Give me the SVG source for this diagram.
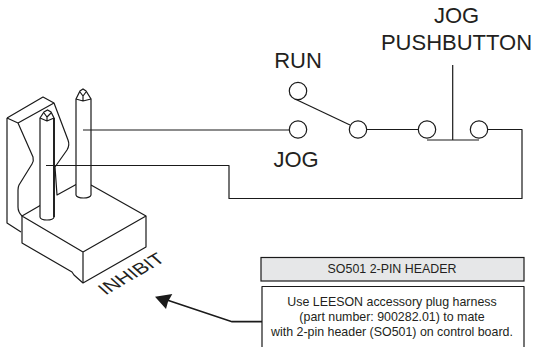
<svg xmlns="http://www.w3.org/2000/svg" width="535" height="347" viewBox="0 0 535 347">
<style>
.l{fill:none;stroke:#1a1a1a;stroke-width:1.2;stroke-linejoin:round}
.w{fill:#fff;stroke:#1a1a1a;stroke-width:1.2}
.t{font-family:"Liberation Sans",Arial,sans-serif;fill:#231f20}
.big{font-size:22px;text-anchor:middle}
.sm{font-size:12.400px;text-anchor:middle}
</style>
<g id="header">
<path class="l" d="M7 118L43 97L54 103L68 140Q70 145 67 150L55 167L57 195L77 184"/>
<path class="l" d="M7 118V223L21 232M7 118L18 123L33 157Q34 161 32 164L19 185Q18 187 18 190V207Q18 212 22 216"/>
<path class="l" d="M18 123L54 103"/>
<path class="l" d="M22 216V243L72 272L74 275L83 283L146 247V216L91 185"/>
<path class="l" d="M22 216L83 252L146 216M83 252V283M22 216L41 205"/>
<path class="w" d="M76 99L80 91L83 89L86 91L91 99V195A7.500 3 0 0 1 76 195Z"/>
<path class="l" d="M76 99L83 101L91 99M80 92L83 96L86 92M83 96V101"/>
<path class="w" d="M40 118L44 112L47.500 110L51 112L54 118V217A7 3 0 0 1 40 217Z"/>
<path class="l" d="M40 118L47 121L54 118M44 113L47 117L51 113M47 117V121"/>
<path d="M54 118V217" fill="none" stroke="#1a1a1a" stroke-width="1.800"/>
</g>
<g id="connectors">
<path class="l" d="M83 130H289"/>
<path class="l" d="M46 165.500H229V198.500H522V129.500H487"/>
<path class="l" d="M295 99L350 125"/>
<path class="l" d="M367 129.500H419"/>
<path class="l" d="M452.700 65V140M427 140H479"/>
<path d="M262 321.700H232L167 300" fill="none" stroke="#1a1a1a" stroke-width="1.700"/>
<path d="M155 296.700L172.300 294L168 301.700L166 309Z" fill="#1a1a1a"/>
</g>
<g id="contact-run"><circle class="w" cx="298" cy="91" r="8.700"/></g>
<g id="contact-jog"><circle class="w" cx="298" cy="129.500" r="8.700"/></g>
<g id="contact-common"><circle class="w" cx="358" cy="129.500" r="8.700"/></g>
<g id="contact-pb1"><circle class="w" cx="427" cy="129.500" r="8.700"/></g>
<g id="contact-pb2"><circle class="w" cx="479" cy="129.500" r="8.700"/></g>
<g id="labels">
<text class="t big" x="298" y="68">RUN</text>
<text class="t big" x="296" y="167">JOG</text>
<text class="t big" x="456.500" y="23">JOG</text>
<text class="t big" x="456.500" y="50">PUSHBUTTON</text>
<text class="t" font-size="19" transform="matrix(.9 -.52 .72 .65 105.500 295.500)">INHIBIT</text>
</g>
<g id="title-box">
<rect x="261" y="257.500" width="263" height="23.500" fill="#e6e7e8" stroke="#1a1a1a" stroke-width="1.200"/>
<text class="t sm" x="392" y="273">SO501 2-PIN HEADER</text>
</g>
<g id="note-box">
<path class="l" d="M262 347V286.500H524V347"/>
<text class="t sm" x="392" y="306">Use LEESON accessory plug harness</text>
<text class="t sm" x="392" y="321">(part number: 900282.01) to mate</text>
<text class="t sm" x="392" y="336">with 2-pin header (SO501) on control board.</text>
</g>
</svg>
